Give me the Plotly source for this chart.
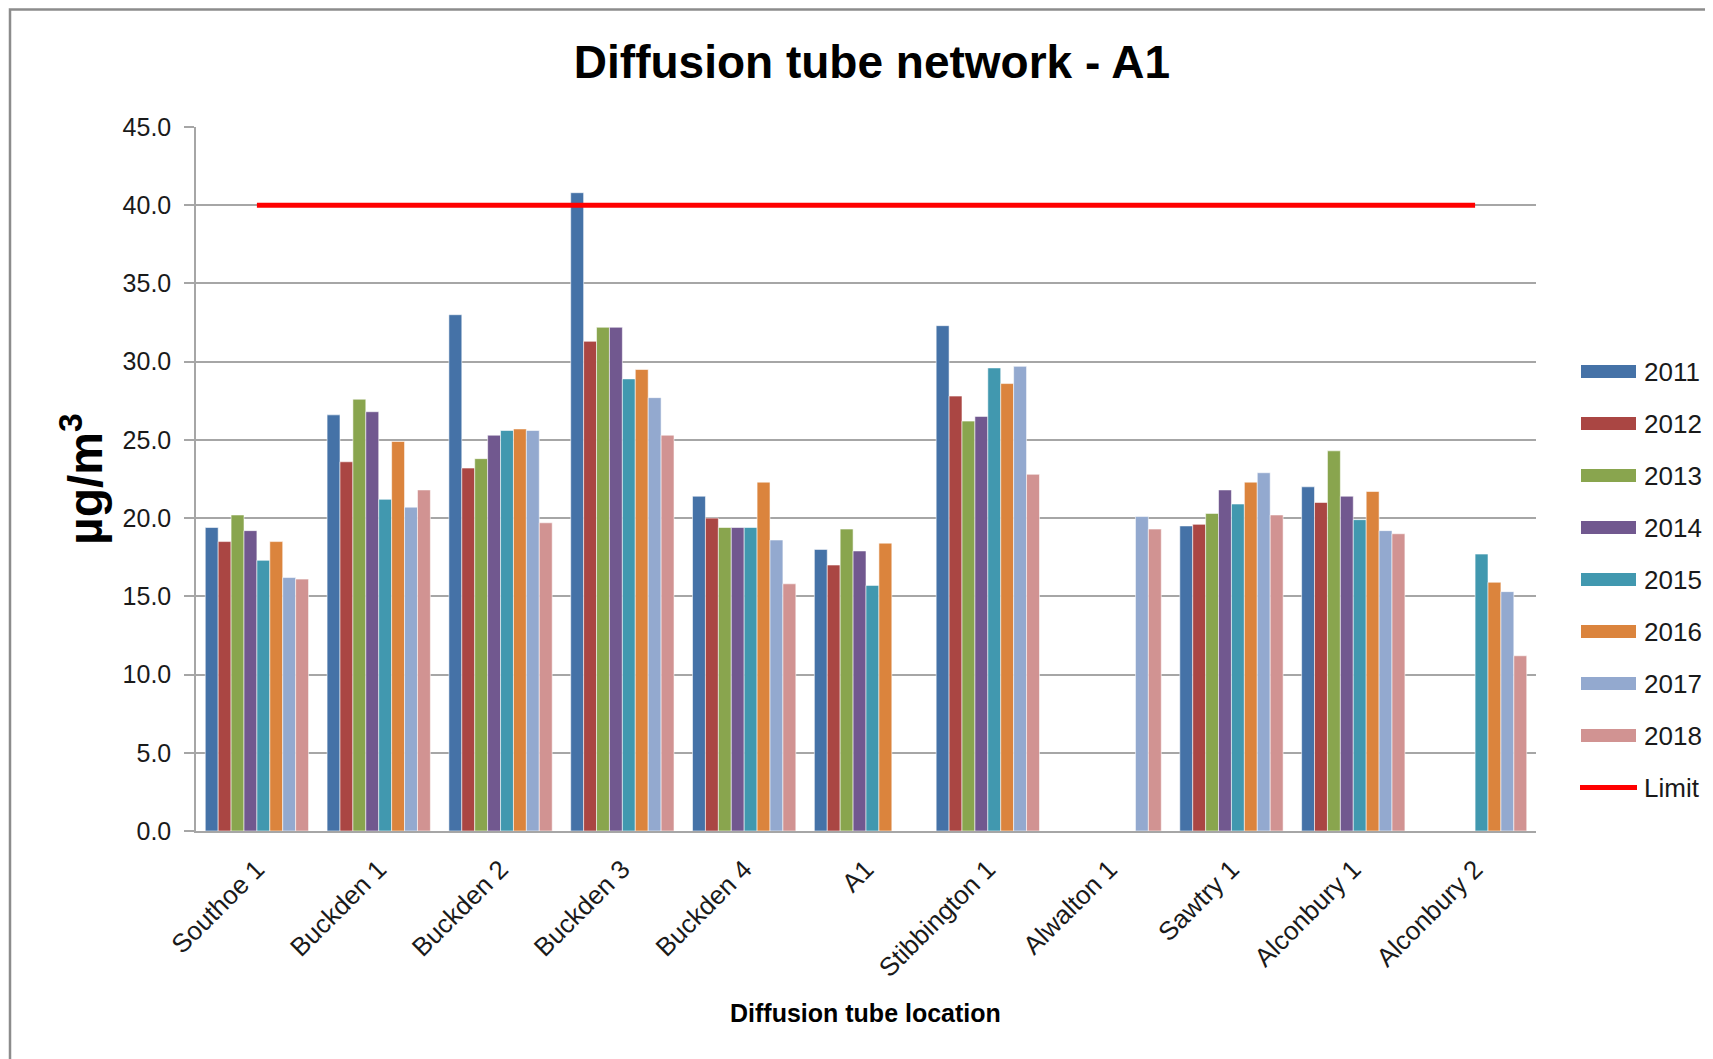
import plotly.graph_objects as go

locations = ["Southoe 1", "Buckden 1", "Buckden 2", "Buckden 3", "Buckden 4", "A1",
             "Stibbington 1", "Alwalton 1", "Sawtry 1", "Alconbury 1", "Alconbury 2"]
years = ["2011", "2012", "2013", "2014", "2015", "2016", "2017", "2018"]

v2011 = [19.4, 26.6, 33.0, 40.8, 21.4, 18.0, 32.3, None, 19.5, 22.0, None]
v2012 = [18.5, 23.6, 23.2, 31.3, 20.0, 17.0, 27.8, None, 19.6, 21.0, None]
v2013 = [20.2, 27.6, 23.8, 32.2, 19.4, 19.3, 26.2, None, 20.3, 24.3, None]
v2014 = [19.2, 26.8, 25.3, 32.2, 19.4, 17.9, 26.5, None, 21.8, 21.4, None]
v2015 = [17.3, 21.2, 25.6, 28.9, 19.4, 15.7, 29.6, None, 20.9, 19.9, 17.7]
v2016 = [18.5, 24.9, 25.7, 29.5, 22.3, 18.4, 28.6, None, 22.3, 21.7, 15.9]
v2017 = [16.2, 20.7, 25.6, 27.7, 18.6, None, 29.7, 20.1, 22.9, 19.2, 15.3]
v2018 = [16.1, 21.8, 19.7, 25.3, 15.8, None, 22.8, 19.3, 20.2, 19.0, 11.2]
limit = [40.0] * len(locations)

series = [v2011, v2012, v2013, v2014, v2015, v2016, v2017, v2018]
colors = ["#4572A7", "#AA4643", "#89A54E", "#71588F", "#4198AF", "#DB843D", "#93A9CF", "#D19392"]
limit_color = "#FF0000"

FONT = "Liberation Sans, Arial, sans-serif"
TXT = "#1a1a1a"
GRID = "#A6A6A6"

OFF = 8  # page body margin
W, H = 1713, 1059
PL, PT, PW, PH = 196, 127, 1340, 704  # plot area in screen pixels
L, T = PL - OFF, PT - OFF
R = W - L - PW
B = H - T - PH


def px(xpix):
    return (xpix - PL) / PW


def py(ypix):
    return (PT + PH - ypix) / PH


fig = go.Figure()
for name, vals, col in zip(years, series, colors):
    fig.add_trace(go.Bar(
        x=locations, y=vals, name=name, showlegend=False,
        marker=dict(color=col, line=dict(color="rgba(255,255,255,0.7)", width=0.8)),
    ))
fig.add_trace(go.Scatter(
    x=locations, y=limit, name="Limit", mode="lines", showlegend=False,
    line=dict(color=limit_color, width=5),
))

shapes = []
annotations = []

# outer chart border (left and top edges visible)
shapes.append(dict(type="rect", xref="paper", yref="paper",
                   x0=px(10), x1=px(1740), y0=py(1090), y1=py(9.5),
                   line=dict(color="#8C8C8C", width=2.5), fillcolor="rgba(0,0,0,0)", layer="below"))

# custom legend
row0, step = 371.5, 52.0
legend_names = years + ["Limit"]
legend_cols = colors + [limit_color]
for i, (nm, col) in enumerate(zip(legend_names, legend_cols)):
    yc = row0 + i * step
    if nm == "Limit":
        shapes.append(dict(type="line", xref="paper", yref="paper",
                           x0=px(1580), x1=px(1637), y0=py(yc), y1=py(yc),
                           line=dict(color=col, width=5)))
    else:
        shapes.append(dict(type="rect", xref="paper", yref="paper",
                           x0=px(1581), x1=px(1636), y0=py(yc + 6.5), y1=py(yc - 6.5),
                           line=dict(width=0), fillcolor=col))
    annotations.append(dict(text=nm, xref="paper", yref="paper", x=px(1642), y=py(yc),
                            xanchor="left", yanchor="middle", showarrow=False,
                            font=dict(family=FONT, size=26, color=TXT)))

# axis titles
annotations.append(dict(text="<b>µg/m<sup>3</sup></b>", xref="paper", yref="paper",
                        x=px(82), y=py(479), xanchor="center", yanchor="middle",
                        textangle=-90, showarrow=False,
                        font=dict(family=FONT, size=48, color="#000000")))
annotations.append(dict(text="<b>Diffusion tube location</b>", xref="paper", yref="paper",
                        x=px(865), y=py(1013), xanchor="center", yanchor="middle",
                        showarrow=False, font=dict(family=FONT, size=25, color="#000000")))

fig.update_layout(
    width=W, height=H,
    margin=dict(l=L, r=R, t=T, b=B, pad=0),
    paper_bgcolor="white", plot_bgcolor="white",
    barmode="group", bargap=0.152, bargroupgap=0,
    title=dict(text="<b>Diffusion tube network - A1</b>", x=(872 - OFF) / W, y=1 - (62 - OFF) / H,
               xanchor="center", yanchor="middle", xref="container", yref="container",
               font=dict(family=FONT, size=46, color="#000000")),
    font=dict(family=FONT, size=25, color=TXT),
    shapes=shapes, annotations=annotations,
    showlegend=False,
)
fig.update_yaxes(range=[0, 45], dtick=5, tickformat=".1f",
                 showgrid=True, gridcolor=GRID, gridwidth=1.5,
                 showline=True, linecolor=GRID, linewidth=1.5,
                 ticks="outside", ticklen=10, tickcolor=GRID, tickwidth=1.5,
                 zeroline=False, tickfont=dict(family=FONT, size=25, color=TXT),
                 ticklabelstandoff=8)
fig.update_xaxes(showline=True, linecolor=GRID, linewidth=1.5, ticks="",
                 tickangle=-45, tickfont=dict(family=FONT, size=26, color=TXT),
                 ticklabelstandoff=11)

fig.write_html("out.html")
